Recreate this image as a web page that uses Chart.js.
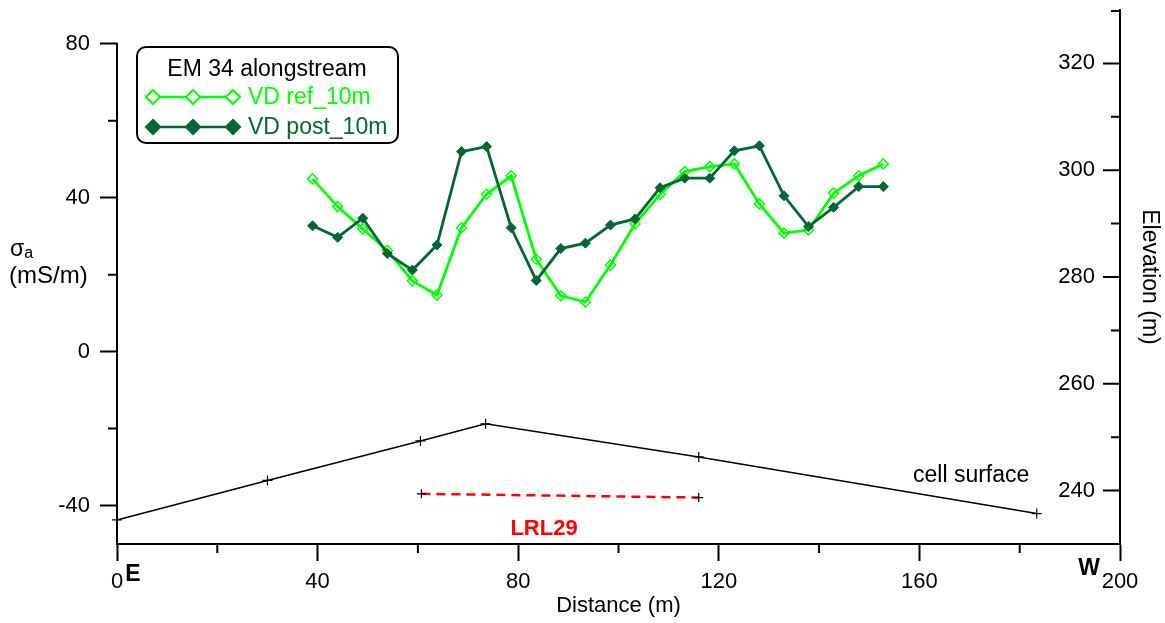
<!DOCTYPE html>
<html lang="en">
<head>
  <meta charset="UTF-8" />
  <title>EM 34 alongstream</title>
  <script src="https://cdn.jsdelivr.net/npm/chart.js"></script>
  <style>
    * { margin: 0; padding: 0; box-sizing: border-box; }
    body { background: #fff; width: 1165px; height: 623px; overflow: hidden; }
    canvas { display: block; }
  </style>
</head>
<body>
  <canvas id="emChart" width="1165" height="623"></canvas>

  <script>
    // EM 34 readings along the stream (distance in m, conductivity in mS/m)
    const distance = [39, 44, 49, 53.9, 58.9, 63.8, 68.7, 73.7, 78.6, 83.6, 88.5, 93.4,
                      98.4, 103.3, 108.3, 113.2, 118.2, 123.1, 128.1, 133, 137.9, 142.9, 147.9, 152.8];
    const vdRef = [44.9, 37.7, 31.9, 26.3, 18.4, 14.7, 32.2, 40.9, 45.7, 24.0, 14.5, 12.9,
                   22.5, 33.2, 40.9, 46.8, 48.1, 48.8, 38.4, 30.8, 31.6, 41.2, 45.7, 48.8];
    const vdPost = [32.7, 29.7, 34.7, 25.5, 21.2, 27.7, 52.0, 53.3, 32.2, 18.5, 26.8, 28.2,
                    32.9, 34.5, 42.6, 45.1, 45.1, 52.2, 53.5, 40.5, 32.5, 37.5, 42.9, 42.9];

    // cell surface profile and LRL29 line (elevation in m)
    const surfaceDist = [0, 30, 60.5, 73.5, 116, 183.4];
    const surfaceElev = [234.5, 241.9, 249.3, 252.5, 246.3, 235.7];
    const lrlDist = [60.7, 116];
    const lrlElev = [239.4, 238.7];

    // axis ticks
    const distTicks = [0, 40, 80, 120, 160, 200];
    const distMinor = [20, 60, 100, 140, 180];
    const sigmaTicks = [-40, 0, 40, 80];
    const sigmaMinor = [-20, 20, 60];
    const elevTicks = [240, 260, 280, 300, 320];
    const elevMinor = [250, 270, 290, 310, 330];

    const FONT = '"Liberation Sans", Arial, sans-serif';
    const LIGHT = '#00ff00';
    const DARK = '#006633';

    const pairs = (xs, ys) => xs.map((v, i) => ({ x: v, y: ys[i] }));

    // no extra label padding, the plot box is fixed
    const noPad = s => {
      s.paddingTop = 0;
      s.paddingBottom = 0;
      s.paddingLeft = 0;
      s.paddingRight = 0;
    };

    // extra axis bits, legend and labels
    const extras = {
      id: 'extras',
      afterDraw(chart) {
        const ctx = chart.ctx;
        const { x, y, y2 } = chart.scales;
        ctx.save();
        ctx.strokeStyle = '#000';
        ctx.lineWidth = 2;

        // left axis line only up to 80
        ctx.beginPath();
        ctx.moveTo(y.right, y.getPixelForValue(80) - 1);
        ctx.lineTo(y.right, x.top);
        ctx.stroke();

        ctx.beginPath();
        sigmaMinor.forEach(v => {
          const py = y.getPixelForValue(v);
          ctx.moveTo(y.right - 9, py);
          ctx.lineTo(y.right, py);
        });
        distMinor.forEach(v => {
          const px = x.getPixelForValue(v);
          ctx.moveTo(px, x.top);
          ctx.lineTo(px, x.top + 9);
        });
        // right axis ticks point inward
        elevTicks.forEach(v => {
          const py = y2.getPixelForValue(v);
          ctx.moveTo(y2.left - 17, py);
          ctx.lineTo(y2.left, py);
        });
        elevMinor.forEach(v => {
          const py = Math.max(y2.getPixelForValue(v), y2.top + 1);
          ctx.moveTo(y2.left - 9, py);
          ctx.lineTo(y2.left, py);
        });
        ctx.stroke();

        // left axis title
        ctx.fillStyle = '#000';
        ctx.textAlign = 'left';
        ctx.textBaseline = 'alphabetic';
        ctx.font = '23px ' + FONT;
        ctx.fillText('σ', 10, 256);
        const sw = ctx.measureText('σ').width;
        ctx.font = '16px ' + FONT;
        ctx.fillText('a', 10 + sw, 258);
        ctx.font = '24px ' + FONT;
        ctx.fillText('(mS/m)', 9, 283);

        // E / W
        ctx.font = 'bold 23px ' + FONT;
        ctx.textAlign = 'center';
        ctx.fillText('E', 133, 581);
        ctx.fillText('W', 1089, 575);

        // annotations
        ctx.font = '23px ' + FONT;
        ctx.textAlign = 'left';
        ctx.fillText('cell surface', 913, 482);
        ctx.fillStyle = '#ff0000';
        ctx.font = 'bold 22px ' + FONT;
        ctx.textAlign = 'center';
        ctx.fillText('LRL29', 544, 535);

        // legend box
        const bx = 137, by = 47, bw = 261, bh = 96, r = 9;
        ctx.fillStyle = '#fff';
        ctx.strokeStyle = '#000';
        ctx.lineWidth = 2;
        ctx.beginPath();
        ctx.moveTo(bx + r, by);
        ctx.arcTo(bx + bw, by, bx + bw, by + bh, r);
        ctx.arcTo(bx + bw, by + bh, bx, by + bh, r);
        ctx.arcTo(bx, by + bh, bx, by, r);
        ctx.arcTo(bx, by, bx + bw, by, r);
        ctx.closePath();
        ctx.fill();
        ctx.stroke();

        ctx.fillStyle = '#000';
        ctx.font = '23px ' + FONT;
        ctx.textAlign = 'center';
        ctx.textBaseline = 'middle';
        ctx.fillText('EM 34 alongstream', 267, 70);

        const rows = [
          { ds: chart.data.datasets[1], y: 97, filled: false },
          { ds: chart.data.datasets[0], y: 127, filled: true }
        ];
        rows.forEach(row => {
          const c = row.ds.borderColor;
          ctx.strokeStyle = c;
          ctx.fillStyle = c;
          ctx.lineWidth = 2.5;
          ctx.beginPath();
          ctx.moveTo(147, row.y);
          ctx.lineTo(238, row.y);
          ctx.stroke();
          [153, 193, 233].forEach(mx => {
            const s = row.filled ? 8.5 : 7;
            ctx.beginPath();
            ctx.moveTo(mx, row.y - s);
            ctx.lineTo(mx + s, row.y);
            ctx.lineTo(mx, row.y + s);
            ctx.lineTo(mx - s, row.y);
            ctx.closePath();
            if (row.filled) {
              ctx.fill();
            } else {
              ctx.fillStyle = '#fff';
              ctx.fill();
              ctx.lineWidth = 2;
              ctx.stroke();
              ctx.fillStyle = c;
            }
          });
          ctx.textAlign = 'left';
          ctx.fillText(row.ds.label, 248, row.y + 1);
        });
        ctx.restore();
      }
    };

    const ctx = document.getElementById('emChart').getContext('2d');
    const emChart = new Chart(ctx, {
      type: 'line',
      data: {
        datasets: [
          {
            label: 'VD post_10m',
            data: pairs(distance, vdPost),
            yAxisID: 'y',
            borderColor: DARK,
            backgroundColor: DARK,
            borderWidth: 2.8,
            pointStyle: 'rectRot',
            pointRadius: 5,
            pointBorderWidth: 1,
            order: 0
          },
          {
            label: 'VD ref_10m',
            data: pairs(distance, vdRef),
            yAxisID: 'y',
            borderColor: LIGHT,
            backgroundColor: 'rgba(255,255,255,0)',
            borderWidth: 2.8,
            pointStyle: 'rectRot',
            pointRadius: 5,
            pointBorderWidth: 1.5,
            order: 1
          },
          {
            label: 'cell surface',
            data: pairs(surfaceDist, surfaceElev),
            yAxisID: 'y2',
            borderColor: '#000',
            borderWidth: 1.5,
            pointStyle: 'cross',
            pointRadius: 5,
            pointBorderColor: '#000',
            pointBorderWidth: 1.2,
            clip: false,
            order: 2
          },
          {
            label: 'LRL29',
            data: pairs(lrlDist, lrlElev),
            yAxisID: 'y2',
            borderColor: '#ff0000',
            borderWidth: 2.5,
            borderDash: [9, 6],
            pointStyle: 'cross',
            pointRadius: 4.5,
            pointBorderColor: '#000',
            pointBorderWidth: 1.2,
            order: 3
          }
        ]
      },
      options: {
        responsive: false,
        animation: false,
        devicePixelRatio: 1,
        layout: { padding: { top: 10, left: 0, right: 0, bottom: 0 } },
        plugins: {
          legend: { display: false },
          tooltip: { enabled: false }
        },
        elements: { line: { tension: 0 } },
        scales: {
          x: {
            type: 'linear',
            position: 'bottom',
            min: 0,
            max: 200,
            afterBuildTicks: s => { s.ticks = distTicks.map(v => ({ value: v })); },
            afterFit: s => { s.height = 79; noPad(s); },
            ticks: { color: '#000', font: { family: FONT, size: 22 }, padding: 8, maxRotation: 0, autoSkip: false },
            grid: { display: true, drawOnChartArea: false, drawTicks: true, tickLength: 17, tickWidth: 2, color: '#000' },
            border: { display: true, color: '#000', width: 2 },
            title: { display: true, text: 'Distance (m)', color: '#000', font: { family: FONT, size: 22 }, padding: { top: 4, bottom: 4 } }
          },
          y: {
            type: 'linear',
            position: 'left',
            min: -50,
            max: 88.8,
            afterBuildTicks: s => { s.ticks = sigmaTicks.map(v => ({ value: v })); },
            afterFit: s => { s.width = 117; noPad(s); },
            ticks: { color: '#000', font: { family: FONT, size: 22 }, padding: 10 },
            grid: { display: true, drawOnChartArea: false, drawTicks: true, tickLength: 17, tickWidth: 2, color: '#000' },
            border: { display: false }
          },
          y2: {
            type: 'linear',
            position: 'right',
            min: 230,
            max: 330,
            afterBuildTicks: s => { s.ticks = elevTicks.map(v => ({ value: v })); },
            afterFit: s => { s.width = 45; noPad(s); },
            ticks: { color: '#000', font: { family: FONT, size: 22 }, mirror: true, padding: -25 },
            grid: { display: false },
            border: { display: true, color: '#000', width: 2 },
            title: { display: true, text: 'Elevation (m)', color: '#000', font: { family: FONT, size: 23 }, padding: { top: 2, bottom: 2 } }
          }
        }
      },
      plugins: [extras]
    });
  </script>
</body>
</html>
